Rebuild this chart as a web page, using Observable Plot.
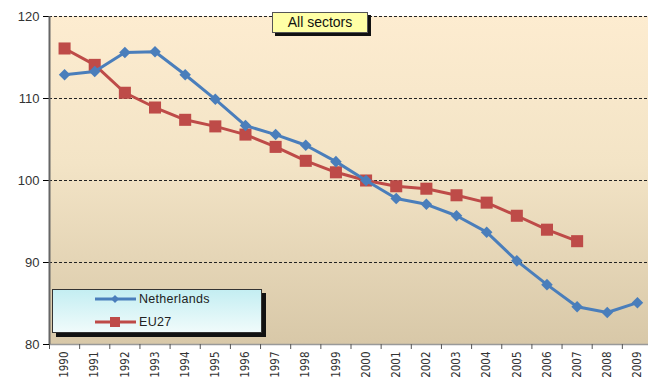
<!DOCTYPE html>
<html>
<head>
<meta charset="utf-8">
<script src="https://cdn.jsdelivr.net/npm/d3@7"></script>
<script src="https://cdn.jsdelivr.net/npm/@observablehq/plot@0.6"></script>
<style>
  html, body { margin: 0; padding: 0; overflow: hidden; background: #fff; }
  #wrap { position: relative; width: 648px; height: 383px; font-family: "Liberation Sans", Arial, sans-serif; }
  #chart svg { max-width: none !important; }
  #title { position: absolute; left: 272px; top: 12px; width: 94px; height: 19px; background: #ffffa6; border: 1px solid #555;
    box-shadow: 3px 3px 0 #111; font-size: 14px; line-height: 19px; text-align: center; color: #111; }
  #legend { position: absolute; left: 52px; top: 289px; width: 208px; height: 42px; border: 1px solid #333;
    background: linear-gradient(#c4eef2, #f0fbfb); box-shadow: 4px 4px 0 #111; font-size: 12.5px; color: #222; }
  .row { position: absolute; left: 40px; height: 16px; display: flex; align-items: center; }
  .row span { margin-left: 2px; letter-spacing: 0.3px; }
</style>
</head>
<body>
<div id="wrap">
  <div id="chart"></div>
  <div id="title">All sectors</div>
  <div id="legend">
    <div class="row" style="top:1px"><svg width="44" height="16"><line x1="2" x2="43" y1="8" y2="8" stroke="#4a7ebb" stroke-width="3"/><path d="M22,4 L26,8 L22,12 L18,8Z" fill="#4a7ebb"/></svg><span>Netherlands</span></div>
    <div class="row" style="top:24px"><svg width="44" height="16"><line x1="2" x2="43" y1="8" y2="8" stroke="#be4b48" stroke-width="3"/><rect x="17" y="3" width="10" height="10" fill="#be4b48"/></svg><span>EU27</span></div>
  </div>
</div>
<script>
const years = [1990,1991,1992,1993,1994,1995,1996,1997,1998,1999,2000,2001,2002,2003,2004,2005,2006,2007,2008,2009];
const netherlands = [112.9,113.3,115.6,115.7,112.9,109.9,106.7,105.6,104.3,102.3,100.0,97.8,97.1,95.7,93.7,90.2,87.3,84.6,83.9,85.1];
const eu27 = [116.1,114.1,110.7,108.9,107.4,106.6,105.6,104.1,102.4,101.0,100.0,99.3,99.0,98.2,97.3,95.7,94.0,92.6];
const yTicks = [80,90,100,110,120];
const gridValues = [90,100,110,120];

const nlData = years.map((y,i) => ({year: y, value: netherlands[i]}));
const euData = eu27.map((v,i) => ({year: years[i], value: v}));
const bounds = years.map(y => y - 0.5).concat([years[years.length-1] + 0.5]);

const plot = Plot.plot({
  width: 652, height: 383,
  marginLeft: 49, marginRight: 0, marginTop: 16, marginBottom: 39,
  style: {fontFamily: "'Liberation Sans', Arial, sans-serif", background: "transparent", overflow: "visible", maxWidth: "none"},
  x: {type: "linear", domain: [years[0]-0.5, years[years.length-1]+0.5], ticks: years, tickFormat: d => String(d),
      tickRotate: -90, tickSize: 0, tickPadding: 7, label: null},
  y: {domain: [80,120], ticks: yTicks, tickSize: 6, tickPadding: 4, label: null},
  marks: [
    Plot.ruleY(gridValues, {stroke: "#222", strokeDasharray: "3,2", strokeWidth: 1}),
    Plot.ruleY([80], {stroke: "#999", strokeWidth: 1.5}),
    Plot.ruleX(bounds, {y1: 80, y2: 80, insetBottom: -5, stroke: "#555"}),
    Plot.ruleX([years[0]-0.5], {y1: 80, y2: 120, stroke: "#666", strokeWidth: 2}),
    Plot.line(euData, {x: "year", y: "value", stroke: "#be4b48", strokeWidth: 3}),
    Plot.dot(euData, {x: "year", y: "value", symbol: "square", r: 6.8, fill: "#be4b48"}),
    Plot.line(nlData, {x: "year", y: "value", stroke: "#4a7ebb", strokeWidth: 3}),
    Plot.dot(nlData, {x: "year", y: "value", symbol: "diamond2", r: 5.2, fill: "#4a7ebb"})
  ]
});

// background gradient for the plot area
const svg = d3.select(plot);
const xs = plot.scale("x"), ys = plot.scale("y");
const defs = svg.insert("defs", ":first-child");
const g = defs.append("linearGradient").attr("id", "bgGrad").attr("x1", 0).attr("x2", 0).attr("y1", 0).attr("y2", 1);
g.append("stop").attr("offset", "0%").attr("stop-color", "#fdecd0");
g.append("stop").attr("offset", "45%").attr("stop-color", "#f3e4c6");
g.append("stop").attr("offset", "100%").attr("stop-color", "#d8c8a8");
const x0 = xs.apply(xs.domain[0]), x1 = xs.apply(xs.domain[1]);
const y0 = ys.apply(120), y1 = ys.apply(80);
svg.insert("rect", "defs + *").attr("x", x0).attr("y", y0).attr("width", x1 - x0).attr("height", y1 - y0).attr("fill", "url(#bgGrad)");
svg.selectAll("[aria-label='y-axis tick label'] text, [aria-label='y-axis'] text").attr("font-size", 13).attr("fill", "#333");
svg.selectAll("[aria-label='x-axis tick label'] text, [aria-label='x-axis'] text").attr("font-size", 11.5).attr("fill", "#333")
  .attr("font-family", "'Liberation Sans Narrow', 'DejaVu Sans Condensed', Arial, sans-serif");
document.getElementById("chart").appendChild(plot);
</script>
</body>
</html>
